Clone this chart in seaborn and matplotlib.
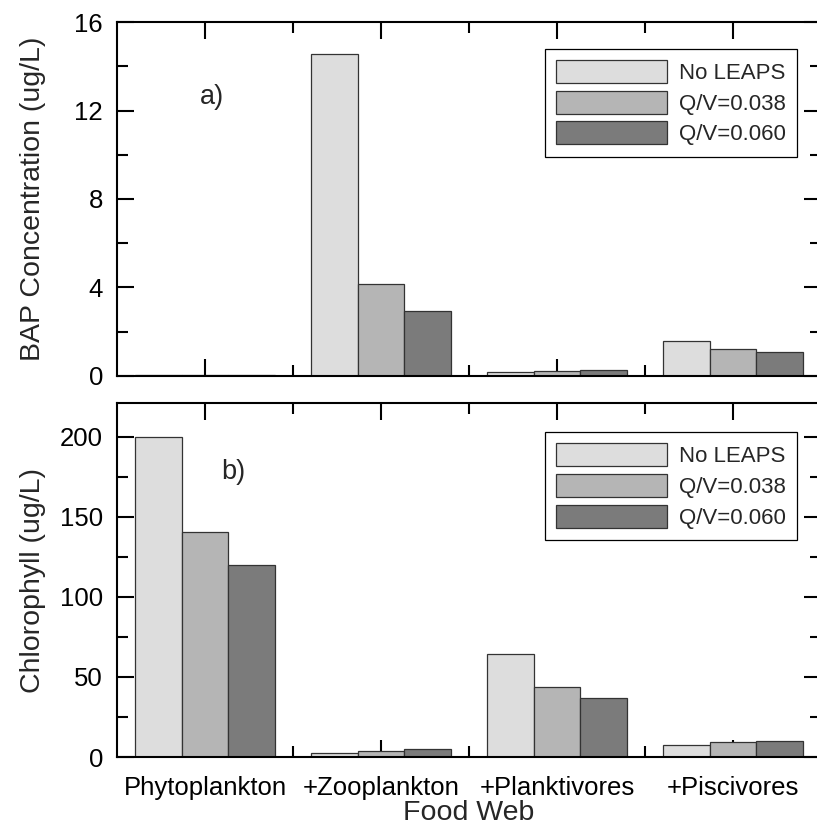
import pandas as pd
import seaborn as sns
from matplotlib import pyplot as plt
from matplotlib.ticker import FixedLocator, MultipleLocator

sns.set_theme(style="ticks")
plt.rcParams["font.family"] = ["Liberation Sans", "DejaVu Sans"]

categories = ["Phytoplankton", "+Zooplankton", "+Planktivores", "+Piscivores"]
scenarios = ["No LEAPS", "Q/V=0.038", "Q/V=0.060"]

# BAP concentration (ug/L)
bap_no_leaps = [0.04, 14.55, 0.17, 1.60]
bap_qv038 = [0.06, 4.15, 0.22, 1.21]
bap_qv060 = [0.05, 2.95, 0.27, 1.07]

# Chlorophyll (ug/L)
chl_no_leaps = [200.0, 2.5, 64.0, 7.5]
chl_qv038 = [140.3, 3.7, 43.5, 9.3]
chl_qv060 = [119.6, 5.0, 36.8, 10.0]

COLORS = ["#dddddd", "#b5b5b5", "#7b7b7b"]
TICK_FS = 18.5
LABEL_FS = 20.5
TAG_FS = 19.5
LEG_FS = 16


def to_frame(series):
    rows = []
    for scen, vals in zip(scenarios, series):
        for cat, v in zip(categories, vals):
            rows.append({"Food Web": cat, "Scenario": scen, "value": v})
    return pd.DataFrame(rows)


bap = to_frame([bap_no_leaps, bap_qv038, bap_qv060])
chl = to_frame([chl_no_leaps, chl_qv038, chl_qv060])

fig = plt.figure(figsize=(8.17, 8.34), dpi=100)
ax1 = fig.add_axes([0.1432, 0.5492, 0.8617, 0.4244])
ax2 = fig.add_axes([0.1432, 0.0923, 0.8617, 0.4245])

panels = [
    (ax1, bap, 16, 4, "BAP Concentration (ug/L)", "a)", (0.135, 0.788), 0.924),
    (ax2, chl, 221, 50, "Chlorophyll (ug/L)", "b)", (0.165, 0.805), 0.918),
]

for ax, df, ymax, step, ylabel, tag, tagpos, legy in panels:
    sns.barplot(
        data=df, x="Food Web", y="value", hue="Scenario",
        order=categories, hue_order=scenarios, palette=COLORS,
        errorbar=None, width=0.8, edgecolor="#333333", linewidth=0.9,
        saturation=1, ax=ax,
    )
    ax.set_xlim(-0.5, 3.5)
    ax.set_ylim(0, ymax)
    ax.yaxis.set_major_locator(MultipleLocator(step))
    ax.yaxis.set_minor_locator(MultipleLocator(step / 2))
    ax.xaxis.set_minor_locator(FixedLocator([0.5, 1.5, 2.5]))
    ax.tick_params(which="both", direction="in", top=True, right=True,
                   width=1.5, labelsize=TICK_FS, colors="black")
    ax.tick_params(which="major", length=12)
    ax.tick_params(which="minor", length=8)
    ax.tick_params(axis="y", pad=10)
    ax.tick_params(axis="x", pad=14)
    for sp in ax.spines.values():
        sp.set_linewidth(1.5)
        sp.set_color("black")
    ax.set_ylabel(ylabel, fontsize=LABEL_FS)
    ax.yaxis.set_label_coords(-0.101, 0.5)
    ax.text(tagpos[0], tagpos[1], tag, transform=ax.transAxes,
            fontsize=TAG_FS, ha="center", va="center")
    sns.move_legend(
        ax, "upper right", bbox_to_anchor=(0.966, legy), title=None,
        fontsize=LEG_FS, frameon=True, fancybox=False, framealpha=1,
        edgecolor="black", handlelength=5.0, handleheight=1.22,
        labelspacing=0.3, handletextpad=0.54, borderpad=0.5,
        borderaxespad=0,
    )
    ax.get_legend().get_frame().set_linewidth(0.9)

ax1.set_xlabel("")
ax1.tick_params(axis="x", labelbottom=False)
ax2.set_xlabel("Food Web", fontsize=LABEL_FS)
ax2.xaxis.set_label_coords(0.5, -0.121)

plt.savefig("out.png", dpi=100)
